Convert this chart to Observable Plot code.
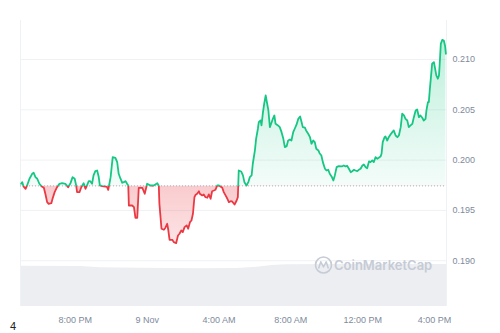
<!DOCTYPE html>
<html><head><meta charset="utf-8">
<script src="https://cdn.jsdelivr.net/npm/d3@7"></script>
<script src="https://cdn.jsdelivr.net/npm/@observablehq/plot@0.6"></script>
<style>
body{margin:0;background:#fff;}
#wrap{position:relative;width:500px;height:333px;overflow:hidden;font-family:"Liberation Sans",Arial,sans-serif;}
#wrap svg{position:absolute;left:0;top:0;}
#corner{position:absolute;left:10px;top:320px;font-size:11px;line-height:12px;color:#222;font-family:"Liberation Sans",Arial,sans-serif;}
</style></head><body>
<div id="wrap"></div>
<script>
// ---- data ----
const times = [
"11-08T16:59","11-08T17:03","11-08T17:07","11-08T17:14","11-08T17:19","11-08T17:27","11-08T17:36","11-08T17:41","11-08T17:47","11-08T17:53",
"11-08T18:00","11-08T18:07","11-08T18:15","11-08T18:20","11-08T18:26","11-08T18:31","11-08T18:40","11-08T18:44","11-08T18:51","11-08T18:59",
"11-08T19:07","11-08T19:16","11-08T19:27","11-08T19:36","11-08T19:44","11-08T19:51","11-08T19:58","11-08T20:03","11-08T20:06","11-08T20:14",
"11-08T20:20","11-08T20:28","11-08T20:34","11-08T20:39","11-08T20:45","11-08T20:50","11-08T20:56","11-08T21:01","11-08T21:07","11-08T21:13",
"11-08T21:18","11-08T21:22","11-08T21:30","11-08T21:41","11-08T21:46","11-08T21:50","11-08T21:54","11-08T21:58","11-08T22:05","11-08T22:14",
"11-08T22:20","11-08T22:25","11-08T22:31","11-08T22:37","11-08T22:42","11-08T22:48","11-08T22:53","11-08T22:57","11-08T22:59","11-08T23:10",
"11-08T23:16","11-08T23:21","11-08T23:27","11-08T23:32","11-08T23:44","11-08T23:52","11-09T00:00","11-09T00:11","11-09T00:22","11-09T00:34",
"11-09T00:39","11-09T00:41","11-09T00:48","11-09T00:56","11-09T01:01","11-09T01:07","11-09T01:10","11-09T01:15","11-09T01:24","11-09T01:29",
"11-09T01:37","11-09T01:43","11-09T01:48","11-09T01:54","11-09T01:59","11-09T02:05","11-09T02:12","11-09T02:17","11-09T02:23","11-09T02:28",
"11-09T02:33","11-09T02:38","11-09T02:42","11-09T02:47","11-09T02:53","11-09T02:56","11-09T03:04","11-09T03:09","11-09T03:15","11-09T03:21",
"11-09T03:26","11-09T03:32","11-09T03:37","11-09T03:43","11-09T03:48","11-09T03:54","11-09T04:00","11-09T04:05","11-09T04:11","11-09T04:16",
"11-09T04:22","11-09T04:28","11-09T04:33","11-09T04:39","11-09T04:44","11-09T04:52","11-09T04:59","11-09T05:03","11-09T05:06","11-09T05:14",
"11-09T05:20","11-09T05:25","11-09T05:32","11-09T05:38","11-09T05:43","11-09T05:49","11-09T05:53","11-09T06:00","11-09T06:04","11-09T06:10",
"11-09T06:13","11-09T06:19","11-09T06:22","11-09T06:27","11-09T06:31","11-09T06:36","11-09T06:39","11-09T06:45","11-09T06:50","11-09T06:56",
"11-09T07:00","11-09T07:05","11-09T07:09","11-09T07:17","11-09T07:23","11-09T07:29","11-09T07:35","11-09T07:40","11-09T07:46","11-09T07:51",
"11-09T07:57","11-09T08:02","11-09T08:08","11-09T08:13","11-09T08:19","11-09T08:25","11-09T08:31","11-09T08:36","11-09T08:40","11-09T08:47",
"11-09T08:51","11-09T08:58","11-09T09:04","11-09T09:09","11-09T09:15","11-09T09:20","11-09T09:25","11-09T09:32","11-09T09:36","11-09T09:42",
"11-09T09:47","11-09T09:54","11-09T09:59","11-09T10:05","11-09T10:10","11-09T10:16","11-09T10:22","11-09T10:27","11-09T10:33","11-09T10:40",
"11-09T10:50","11-09T10:57","11-09T11:03","11-09T11:08","11-09T11:14","11-09T11:20","11-09T11:25","11-09T11:31","11-09T11:36","11-09T11:42",
"11-09T11:47","11-09T11:53","11-09T11:59","11-09T12:04","11-09T12:10","11-09T12:15","11-09T12:21","11-09T12:26","11-09T12:32","11-09T12:37",
"11-09T12:43","11-09T12:49","11-09T12:54","11-09T13:00","11-09T13:03","11-09T13:07","11-09T13:13","11-09T13:16","11-09T13:22","11-09T13:27",
"11-09T13:33","11-09T13:39","11-09T13:44","11-09T13:50","11-09T13:56","11-09T14:01","11-09T14:07","11-09T14:12","11-09T14:18","11-09T14:23",
"11-09T14:29","11-09T14:34","11-09T14:40","11-09T14:46","11-09T14:51","11-09T14:57","11-09T15:02","11-09T15:08","11-09T15:13","11-09T15:19",
"11-09T15:24","11-09T15:30","11-09T15:33","11-09T15:38","11-09T15:41","11-09T15:44","11-09T15:49","11-09T15:52","11-09T15:58","11-09T16:01",
"11-09T16:06","11-09T16:11","11-09T16:15","11-09T16:18","11-09T16:21","11-09T16:26","11-09T16:31","11-09T16:35","11-09T16:38"
];
const prices = [
0.19765,0.19781,0.19738,0.19715,0.19748,0.19815,0.19864,0.19874,0.19831,0.19815,
0.19765,0.19741,0.19725,0.19666,0.19582,0.19566,0.19572,0.19616,0.19682,0.19731,
0.19765,0.19771,0.19765,0.19731,0.19771,0.19831,0.19815,0.19748,0.19682,0.19682,
0.19731,0.19771,0.19715,0.19748,0.19791,0.19791,0.19765,0.19848,0.19890,0.19897,
0.19838,0.19748,0.19741,0.19738,0.19733,0.19705,0.19765,0.19831,0.20029,0.20023,
0.19980,0.19864,0.19815,0.19775,0.19781,0.19791,0.19765,0.19748,0.19549,0.19549,
0.19532,0.19427,0.19427,0.19725,0.19725,0.19666,0.19765,0.19748,0.19748,0.19771,
0.19743,0.19566,0.19318,0.19308,0.19328,0.19367,0.19318,0.19208,0.19208,0.19185,
0.19175,0.19251,0.19268,0.19301,0.19284,0.19334,0.19351,0.19318,0.19383,0.19400,
0.19467,0.19632,0.19656,0.19666,0.19691,0.19666,0.19649,0.19659,0.19632,0.19626,
0.19659,0.19616,0.19691,0.19698,0.19705,0.19748,0.19748,0.19738,0.19725,0.19682,
0.19649,0.19616,0.19582,0.19592,0.19589,0.19559,0.19599,0.19632,0.19897,0.19887,
0.19848,0.19781,0.19748,0.19781,0.19831,0.19848,0.19964,0.20096,0.20212,0.20312,
0.20377,0.20394,0.20345,0.20477,0.20560,0.20643,0.20593,0.20494,0.20328,0.20377,
0.20411,0.20444,0.20361,0.20345,0.20328,0.20278,0.20212,0.20129,0.20139,0.20195,
0.20205,0.20195,0.20278,0.20312,0.20352,0.20411,0.20434,0.20377,0.20328,0.20322,
0.20295,0.20262,0.20228,0.20163,0.20195,0.20179,0.20113,0.20096,0.20069,0.20046,
0.19980,0.19914,0.19897,0.19904,0.19864,0.19838,0.19798,0.19848,0.19930,0.19940,
0.19937,0.19947,0.19937,0.19944,0.19914,0.19880,0.19890,0.19904,0.19897,0.19890,
0.19904,0.19914,0.19947,0.19957,0.19930,0.19920,0.19987,0.19980,0.19997,0.19980,
0.20029,0.20014,0.20023,0.20037,0.20063,0.20179,0.20228,0.20235,0.20195,0.20228,
0.20255,0.20278,0.20295,0.20245,0.20228,0.20245,0.20328,0.20461,0.20444,0.20411,
0.20394,0.20328,0.20345,0.20361,0.20427,0.20494,0.20504,0.20427,0.20444,0.20421,
0.20394,0.20411,0.20494,0.20576,0.20576,0.20692,0.20858,0.20958,0.20974,0.20924,
0.20842,0.20809,0.20842,0.20991,0.21157,0.21196,0.21189,0.21140,0.21057
];
const openPrice = 0.19744;   // 24h-ago reference price (dotted line)
const volumeTimes = ["11-08T16:57","11-08T20:17","11-08T21:24","11-08T23:37","11-09T02:58","11-09T05:00","11-09T06:07","11-09T06:57","11-09T07:47","11-09T10:16","11-09T16:40"];
const volumeValues = [896, 889, 860, 851, 840, 844, 873, 911, 927, 933, 933];
const yTicks = [0.190, 0.195, 0.200, 0.205, 0.210];
const xTickTimes = ["11-08T20:00","11-09T00:00","11-09T04:00","11-09T08:00","11-09T12:00","11-09T16:00"];
const xDomainTimes = ["11-08T16:57","11-09T16:40"];
const yDomain = [0.18545, 0.21388];
const volumeDomain = [0, 1000];

// ---- build ----
const parse = s => new Date("2023-" + s + ":00Z");
const data = times.map((t, i) => ({date: parse(t), price: prices[i]}));
const vol = volumeTimes.map((t, i) => ({date: parse(t), volume: volumeValues[i]}));
const xDomain = xDomainTimes.map(parse);
const fmtDay = d3.utcFormat("%-d %b"), fmtTime = d3.utcFormat("%-I:%M %p");
const xFormat = d => (d.getUTCHours() === 0 && d.getUTCMinutes() === 0) ? fmtDay(d) : fmtTime(d);

const GREEN = "#16c784", RED = "#ea3943";
const wrap = document.getElementById("wrap");

// volume layer (behind)
const volPlot = Plot.plot({
  width: 500, height: 333,
  marginLeft: 20, marginRight: 54, marginTop: 261, marginBottom: 27,
  style: {background: "transparent"},
  x: {type: "utc", domain: xDomain, axis: null},
  y: {domain: volumeDomain, axis: null},
  marks: [
    Plot.areaY(vol, {x: "date", y: "volume", fill: "#eceef2"})
  ]
});
wrap.appendChild(volPlot);

// price layer
const main = Plot.plot({
  width: 500, height: 333,
  marginLeft: 20, marginRight: 54, marginTop: 20, marginBottom: 27,
  style: {background: "transparent", fontFamily: "'Liberation Sans', Arial, sans-serif", fontSize: "9px", color: "#808a9d"},
  x: {type: "utc", domain: xDomain, ticks: xTickTimes.map(parse), tickFormat: xFormat, tickSize: 0, tickPadding: 10, label: null},
  y: {domain: yDomain, axis: "right", ticks: yTicks, tickFormat: d3.format(".3f"), tickSize: 0, tickPadding: 6, label: null},
  marks: [
    Plot.ruleY(yTicks, {stroke: "#eff2f5"}),
    Plot.ruleX(xDomain, {stroke: "#eff2f5"}),
    Plot.areaY(data, {x: "date", y1: d => openPrice, y2: "price", fill: "url(#gUp)"}),
    Plot.areaY(data, {x: "date", y1: d => openPrice, y2: "price", fill: "url(#gDown)"}),
    Plot.ruleY([openPrice], {stroke: "#a6b0c3", strokeDasharray: "1,2"}),
    Plot.line(data, {x: "date", y: "price", stroke: GREEN, strokeWidth: 1.8}),
    Plot.line(data, {x: "date", y: "price", stroke: RED, strokeWidth: 1.8})
  ]
});
wrap.appendChild(main);

// gradients and clip paths computed from the plot's own y scale
const ys = main.scale("y");
const yb = ys.apply(openPrice), yTop = ys.apply(d3.max(prices)), yBot = ys.apply(d3.min(prices));
const ns = "http://www.w3.org/2000/svg";
const defs = document.createElementNS(ns, "defs");
defs.innerHTML =
  `<linearGradient id="gUp" gradientUnits="userSpaceOnUse" x1="0" x2="0" y1="${yTop}" y2="${yb}">
     <stop offset="0" stop-color="${GREEN}" stop-opacity="0.28"/>
     <stop offset="1" stop-color="${GREEN}" stop-opacity="0.05"/>
   </linearGradient>
   <linearGradient id="gDown" gradientUnits="userSpaceOnUse" x1="0" x2="0" y1="${yb}" y2="${yBot}">
     <stop offset="0" stop-color="${RED}" stop-opacity="0.26"/>
     <stop offset="1" stop-color="${RED}" stop-opacity="0.14"/>
   </linearGradient>
   <clipPath id="clipUp"><rect x="0" y="0" width="500" height="${yb}"/></clipPath>
   <clipPath id="clipDown"><rect x="0" y="${yb}" width="500" height="${333 - yb}"/></clipPath>`;
main.insertBefore(defs, main.firstChild);
const areas = main.querySelectorAll('g[aria-label="area"]');
const lines = main.querySelectorAll('g[aria-label="line"]');
areas[0].setAttribute("clip-path", "url(#clipUp)");
areas[1].setAttribute("clip-path", "url(#clipDown)");
lines[0].setAttribute("clip-path", "url(#clipUp)");
lines[1].setAttribute("clip-path", "url(#clipDown)");

// watermark (decorative)
const wm = document.createElementNS(ns, "svg");
wm.setAttribute("width", 500); wm.setAttribute("height", 333);
wm.innerHTML =
  `<circle cx="323.5" cy="265" r="8" fill="none" stroke="#c6cbd5" stroke-width="1.6"/>
   <path d="M318.6 268.5 L320.8 261.8 L323.5 267 L326.2 261.8 L328.4 268.5" fill="none" stroke="#c6cbd5" stroke-width="1.5" stroke-linejoin="round"/>
   <text x="334" y="269.5" font-family="Inter, 'Noto Sans', sans-serif" font-weight="600" font-size="13" fill="#c6cbd5">CoinMarketCap</text>`;
wrap.appendChild(wm);

const corner = document.createElement("div");
corner.id = "corner"; corner.textContent = "4";
wrap.appendChild(corner);
</script>
</body></html>
